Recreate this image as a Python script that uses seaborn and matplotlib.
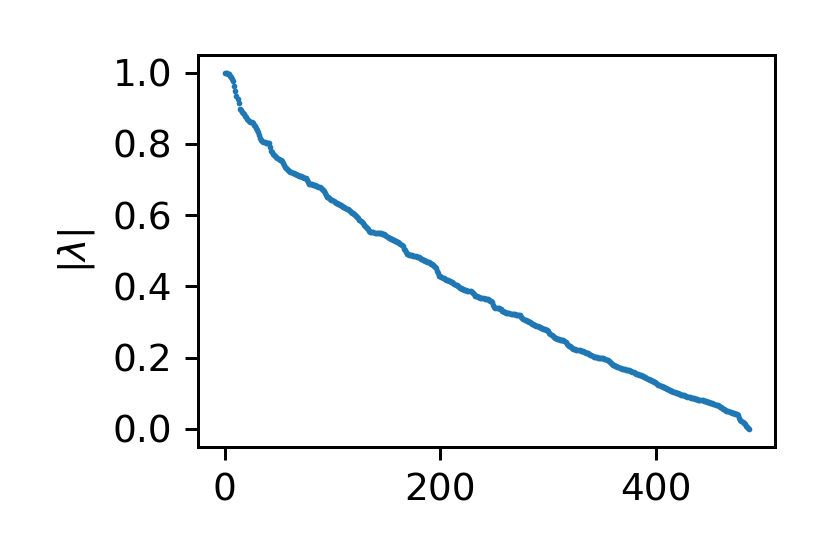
import numpy as np
import matplotlib
matplotlib.use("Agg")
import matplotlib.pyplot as plt
import seaborn as sns

# |lambda| sorted in decreasing order
abs_eig = [
    1.000, 0.999, 0.998, 0.997, 0.995, 0.991, 0.988, 0.983, 0.976, 0.962,
    0.948, 0.934, 0.925, 0.915, 0.898, 0.894, 0.890, 0.887, 0.883, 0.879,
    0.875, 0.871, 0.868, 0.865, 0.862, 0.860, 0.858, 0.854, 0.849, 0.845,
    0.840, 0.832, 0.824, 0.817, 0.812, 0.808, 0.804, 0.804, 0.803, 0.803,
    0.802, 0.802, 0.790, 0.779, 0.776, 0.772, 0.769, 0.765, 0.763, 0.761,
    0.758, 0.756, 0.755, 0.751, 0.746, 0.741, 0.736, 0.733, 0.730, 0.727,
    0.724, 0.722, 0.720, 0.719, 0.717, 0.716, 0.714, 0.713, 0.712, 0.711,
    0.710, 0.709, 0.707, 0.706, 0.705, 0.704, 0.699, 0.694, 0.688, 0.687,
    0.687, 0.686, 0.685, 0.685, 0.684, 0.683, 0.682, 0.680, 0.678, 0.676,
    0.673, 0.670, 0.668, 0.663, 0.657, 0.652, 0.650, 0.648, 0.645, 0.643,
    0.641, 0.639, 0.637, 0.635, 0.633, 0.632, 0.630, 0.629, 0.627, 0.626,
    0.624, 0.622, 0.620, 0.618, 0.616, 0.614, 0.612, 0.610, 0.607, 0.605,
    0.603, 0.600, 0.597, 0.594, 0.591, 0.587, 0.584, 0.580, 0.577, 0.573,
    0.570, 0.566, 0.563, 0.560, 0.556, 0.553, 0.553, 0.552, 0.552, 0.551,
    0.551, 0.551, 0.550, 0.550, 0.549, 0.549, 0.548, 0.548, 0.547, 0.544,
    0.542, 0.539, 0.537, 0.536, 0.534, 0.533, 0.531, 0.530, 0.528, 0.527,
    0.525, 0.523, 0.521, 0.520, 0.517, 0.512, 0.506, 0.501, 0.496, 0.492,
    0.490, 0.489, 0.488, 0.487, 0.487, 0.486, 0.485, 0.484, 0.483, 0.482,
    0.482, 0.480, 0.478, 0.476, 0.474, 0.473, 0.472, 0.470, 0.469, 0.467,
    0.465, 0.464, 0.462, 0.460, 0.457, 0.453, 0.450, 0.443, 0.436, 0.430,
    0.428, 0.426, 0.424, 0.422, 0.421, 0.419, 0.418, 0.417, 0.416, 0.415,
    0.413, 0.412, 0.410, 0.407, 0.405, 0.403, 0.400, 0.398, 0.396, 0.395,
    0.393, 0.391, 0.390, 0.389, 0.389, 0.388, 0.388, 0.387, 0.387, 0.384,
    0.381, 0.377, 0.374, 0.373, 0.372, 0.370, 0.369, 0.368, 0.367, 0.367,
    0.366, 0.365, 0.364, 0.364, 0.363, 0.362, 0.360, 0.358, 0.356, 0.348,
    0.341, 0.340, 0.340, 0.339, 0.338, 0.337, 0.335, 0.332, 0.330, 0.328,
    0.327, 0.326, 0.326, 0.325, 0.324, 0.323, 0.323, 0.322, 0.322, 0.321,
    0.320, 0.320, 0.319, 0.319, 0.318, 0.315, 0.312, 0.309, 0.306, 0.304,
    0.303, 0.302, 0.300, 0.299, 0.297, 0.295, 0.294, 0.292, 0.290, 0.289,
    0.288, 0.287, 0.285, 0.284, 0.282, 0.281, 0.280, 0.279, 0.277, 0.276,
    0.274, 0.270, 0.266, 0.262, 0.260, 0.258, 0.256, 0.254, 0.252, 0.251,
    0.251, 0.250, 0.250, 0.249, 0.249, 0.246, 0.243, 0.239, 0.236, 0.233,
    0.231, 0.229, 0.226, 0.224, 0.223, 0.223, 0.222, 0.221, 0.220, 0.220,
    0.219, 0.218, 0.217, 0.216, 0.215, 0.214, 0.213, 0.212, 0.210, 0.208,
    0.206, 0.204, 0.202, 0.202, 0.201, 0.201, 0.200, 0.200, 0.199, 0.199,
    0.199, 0.198, 0.196, 0.195, 0.193, 0.192, 0.191, 0.188, 0.185, 0.183,
    0.180, 0.179, 0.177, 0.176, 0.174, 0.173, 0.171, 0.170, 0.169, 0.168,
    0.168, 0.167, 0.166, 0.166, 0.165, 0.164, 0.162, 0.161, 0.159, 0.158,
    0.156, 0.155, 0.154, 0.153, 0.152, 0.151, 0.150, 0.149, 0.147, 0.146,
    0.144, 0.142, 0.141, 0.139, 0.138, 0.136, 0.135, 0.133, 0.132, 0.130,
    0.127, 0.125, 0.124, 0.122, 0.121, 0.119, 0.118, 0.116, 0.115, 0.114,
    0.112, 0.111, 0.109, 0.108, 0.107, 0.105, 0.104, 0.103, 0.101, 0.100,
    0.099, 0.098, 0.097, 0.096, 0.096, 0.095, 0.094, 0.093, 0.091, 0.090,
    0.089, 0.088, 0.087, 0.086, 0.086, 0.085, 0.084, 0.084, 0.083, 0.082,
    0.082, 0.081, 0.081, 0.080, 0.079, 0.078, 0.077, 0.076, 0.075, 0.074,
    0.073, 0.072, 0.071, 0.070, 0.069, 0.068, 0.067, 0.066, 0.064, 0.062,
    0.060, 0.058, 0.056, 0.054, 0.052, 0.051, 0.050, 0.049, 0.047, 0.046,
    0.045, 0.044, 0.043, 0.042, 0.041, 0.040, 0.039, 0.031, 0.024, 0.021,
    0.018, 0.015, 0.012, 0.009, 0.006, 0.003, 0.000,
]
idx = np.arange(len(abs_eig))

fig = plt.figure(figsize=(830 / 270, 554 / 270), dpi=270)
ax = fig.add_axes([0.239, 0.194, 0.695, 0.707])

sns.scatterplot(x=idx, y=abs_eig, ax=ax, s=2.3, linewidth=0, color="tab:blue")

ax.set_ylabel(r"$|\lambda|$")
ax.set_yticks([0.0, 0.2, 0.4, 0.6, 0.8, 1.0])
ax.set_xticks([0, 200, 400])

fig.savefig("out.png", dpi=270)
